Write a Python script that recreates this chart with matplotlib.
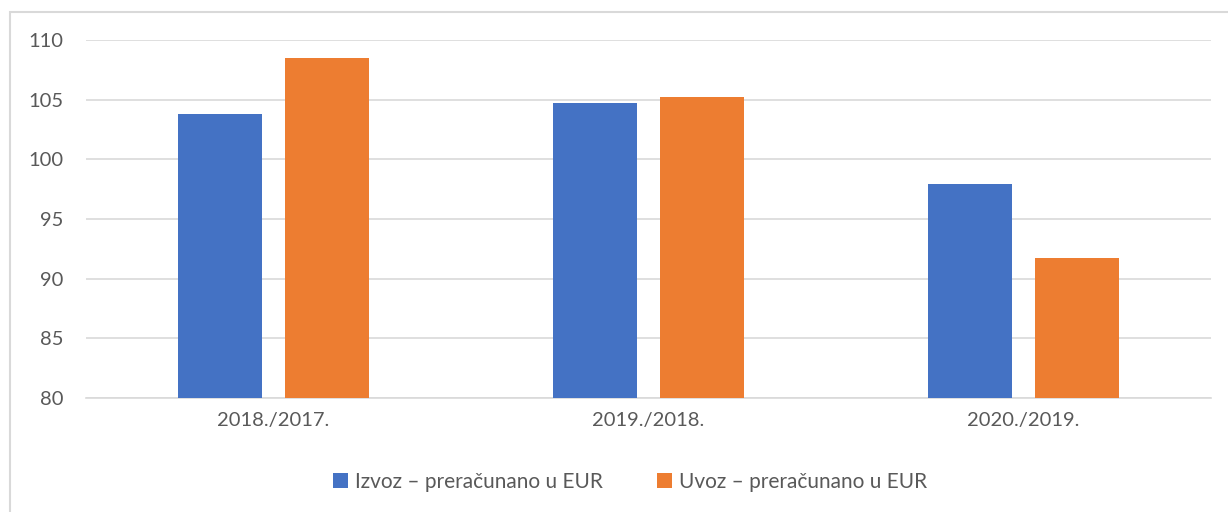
import numpy as np
import matplotlib.pyplot as plt
from matplotlib.patches import Rectangle

categories = ['2018./2017.', '2019./2018.', '2020./2019.']
izvoz = [103.8, 104.7, 97.9]
uvoz = [108.5, 105.2, 91.7]
series_names = ['Izvoz – preračunano u EUR', 'Uvoz – preračunano u EUR']
yticks = [80, 85, 90, 95, 100, 105, 110]

plt.rcParams['font.family'] = ['Lato', 'DejaVu Sans']
txt = '#595959'

fig = plt.figure(figsize=(12.28, 5.12), dpi=100)
ax = fig.add_axes([86/1228, 1 - 398/512, 1125/1228, 358/512])

x = np.arange(len(categories))
w = 0.224
ax.bar(x - 0.143, izvoz, w, color='#4472c4', label=series_names[0], zorder=3)
ax.bar(x + 0.143, uvoz, w, color='#ed7d31', label=series_names[1], zorder=3)

ax.set_xlim(-0.5, 2.5)
ax.set_ylim(80, 110)
ax.set_yticks(yticks)
ax.set_xticks(x)
ax.set_xticklabels(categories)
ax.grid(axis='y', color='#d9d9d9', linewidth=1.2, zorder=0)
for s in ['top', 'right', 'left']:
    ax.spines[s].set_visible(False)
ax.spines['bottom'].set_color('#d9d9d9')
ax.spines['bottom'].set_linewidth(1.2)
ax.tick_params(length=0, labelsize=14.5, colors=txt)
ax.tick_params(axis='y', pad=16)
ax.tick_params(axis='x', pad=10)

fig.legend(loc='center', bbox_to_anchor=(630/1228, 1 - 482/512), ncol=2, frameon=False,
           fontsize=15, labelcolor=txt, handlelength=0.7, handleheight=0.7,
           handletextpad=0.35, columnspacing=2.6)

fig.patches.append(Rectangle((10/1228, -0.1), 1.2, 1.1 - 12/512, transform=fig.transFigure,
                             fill=False, edgecolor='#d9d9d9', linewidth=1.5))

fig.savefig('out.png', dpi=100)
